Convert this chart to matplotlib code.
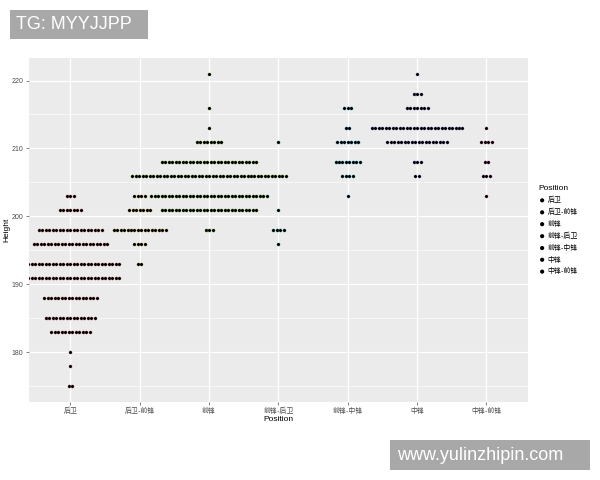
import matplotlib
matplotlib.use('Agg')
from matplotlib import pyplot as plt
from matplotlib.patches import Rectangle

plt.rcParams['font.family'] = ['Liberation Sans', 'Noto Sans CJK SC']

# Define data.
positions = ['后卫', '后卫-前锋', '前锋', '前锋-后卫', '前锋-中锋', '中锋', '中锋-前锋']
bins = [175, 178, 180, 183, 185, 188, 191, 193, 196, 198,
        201, 203, 206, 208, 211, 213, 216, 218, 221]
guard = [2, 1, 1, 12, 15, 16, 29, 29, 22, 19, 7, 3, 0, 0, 0, 0, 0, 0, 0]
guard_fwd = [0, 0, 0, 0, 0, 0, 0, 2, 4, 16, 7, 4, 0, 0, 0, 0, 0, 0, 0]
forward = [0, 0, 0, 0, 0, 0, 0, 0, 0, 3, 28, 34, 45, 28, 8, 1, 1, 0, 1]
fwd_guard = [0, 0, 0, 0, 0, 0, 0, 0, 1, 4, 1, 0, 0, 0, 1, 0, 0, 0, 0]
fwd_center = [0, 0, 0, 0, 0, 0, 0, 0, 0, 0, 0, 1, 4, 8, 7, 2, 3, 0, 0]
center = [0, 0, 0, 0, 0, 0, 0, 0, 0, 0, 0, 0, 2, 3, 18, 27, 7, 3, 1]
center_fwd = [0, 0, 0, 0, 0, 0, 0, 0, 0, 0, 0, 1, 3, 2, 4, 1, 0, 0, 0]
counts = [guard, guard_fwd, forward, fwd_guard, fwd_center, center, center_fwd]
colors = ['#F8766D', '#C49A00', '#53B400', '#00C094', '#00B6EB', '#A58AFF', '#FB61D7']

# Make plot.
fig = plt.figure(figsize=(6, 4.8), dpi=100)
ax = fig.add_axes([0.048, 0.1625, 0.832, 0.7165])
ax.set_facecolor('#EBEBEB')

step = 0.0504
for i, cnt in enumerate(counts):
    xs = []
    ys = []
    for b, n in zip(bins, cnt):
        for k in range(n):
            xs.append(i + (k - (n - 1) / 2) * step)
            ys.append(b)
    ax.scatter(xs, ys, s=5.5, c='black', edgecolors=colors[i], linewidths=0.12, zorder=3)

# Customize plot.
ax.set_xlim(-0.6, 6.6)
ax.set_ylim(172.7, 223.3)
ax.set_xticks(range(len(positions)))
ax.set_xticklabels(positions)
ax.set_yticks([180, 190, 200, 210, 220])
ax.set_yticks([175, 185, 195, 205, 215], minor=True)
ax.grid(which='major', color='white', linewidth=0.9)
ax.grid(which='minor', color='white', linewidth=0.45)
ax.set_axisbelow(True)
for sp in ax.spines.values():
    sp.set_visible(False)
ax.tick_params(axis='both', which='major', labelsize=5, colors='#4D4D4D',
               length=2, width=0.5, pad=2)
ax.tick_params(axis='both', which='minor', length=0)
for lab in ax.get_xticklabels() + ax.get_yticklabels():
    lab.set_color('#4D4D4D')
ax.set_xlabel('Position', fontsize=6, labelpad=1)
ax.set_ylabel('Height', fontsize=6, labelpad=1)

# Legend.
handles = [ax.scatter([], [], s=9, c='black', edgecolors='none') for p in positions]
leg = fig.legend(handles, positions, title='Position', loc='upper left',
                 bbox_to_anchor=(0.892, 0.62), frameon=False, fontsize=5,
                 title_fontsize=6, handletextpad=0.2, labelspacing=0.68,
                 handlelength=1.2, borderaxespad=0)
leg._legend_box.align = 'left'

# Watermarks.
fig.patches.append(Rectangle((10 / 600, 441 / 480), 138 / 600, 29 / 480,
                             transform=fig.transFigure, facecolor='#A8A8A8',
                             edgecolor='none'))
fig.text(16 / 600, 455.5 / 480, 'TG: MYYJJPP', fontsize=13, color='white', va='center')
fig.patches.append(Rectangle((390 / 600, 10 / 480), 200 / 600, 30 / 480,
                             transform=fig.transFigure, facecolor='#A8A8A8',
                             edgecolor='none'))
fig.text(397 / 600, 25 / 480, 'www.yulinzhipin.com', fontsize=13, color='white', va='center')

plt.savefig('out.png', dpi=100)
